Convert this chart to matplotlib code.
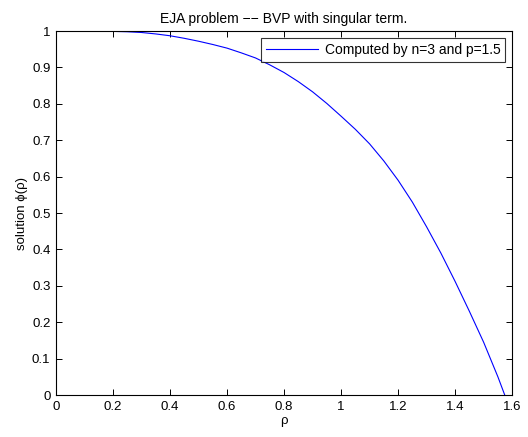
import numpy as np
import matplotlib
matplotlib.use('Agg')
import matplotlib.pyplot as plt

plt.rcParams['font.family'] = ['Liberation Sans', 'DejaVu Sans']

# values
rho = [0.0, 0.05, 0.1, 0.15, 0.2, 0.25, 0.3, 0.35, 0.4, 0.45, 0.5, 0.55,
       0.6, 0.65, 0.7, 0.75, 0.8, 0.85, 0.9, 0.95, 1.0, 1.05, 1.1, 1.15,
       1.2, 1.25, 1.3, 1.35, 1.4, 1.45, 1.5, 1.55, 1.574]
phi = [1.0, 1.0, 1.0, 0.9995, 0.999, 0.998, 0.996, 0.992, 0.987, 0.980,
       0.972, 0.963, 0.953, 0.940, 0.926, 0.907, 0.886, 0.861, 0.833,
       0.801, 0.766, 0.730, 0.690, 0.643, 0.590, 0.530, 0.462, 0.390,
       0.312, 0.230, 0.145, 0.050, 0.0]

x_ticks = [0, 0.2, 0.4, 0.6, 0.8, 1, 1.2, 1.4, 1.6]
x_labels = ['0', '0.2', '0.4', '0.6', '0.8', '1', '1.2', '1.4', '1.6']
y_ticks = [0, 0.1, 0.2, 0.3, 0.4, 0.5, 0.6, 0.7, 0.8, 0.9, 1]
y_labels = ['0', '0.1', '0.2', '0.3', '0.4', '0.5', '0.6', '0.7', '0.8', '0.9', '1']

fig = plt.figure(figsize=(5.28, 4.37), dpi=100)
ax = fig.add_axes([0.106, 0.096, 0.864, 0.833])
ax.plot(rho, phi, color=(0, 0, 1), lw=0.8, label='Computed by n=3 and p=1.5')

ax.set_xlim(0, 1.6)
ax.set_ylim(0, 1)
ax.set_xticks(x_ticks)
ax.set_xticklabels(x_labels)
ax.set_yticks(y_ticks)
ax.set_yticklabels(y_labels)
ax.tick_params(direction='in', top=True, right=True, labelsize=9.5, length=4.5, width=0.7, pad=4)
for s in ax.spines.values():
    s.set_linewidth(0.8)

ax.set_title('EJA problem \u2212\u2212 BVP with singular term.', fontsize=10, pad=6)
ax.set_xlabel('\u03c1', fontsize=9.5, labelpad=2)
ax.set_ylabel('solution \u03d5(\u03c1)', fontsize=9.5, labelpad=3)

leg = ax.legend(loc='upper right', fontsize=10, frameon=True, fancybox=False,
                edgecolor='black', handlelength=3.7, borderaxespad=0.5,
                borderpad=0.35, handletextpad=0.5)
leg.get_frame().set_linewidth(0.8)

fig.savefig('out.png', dpi=100)
